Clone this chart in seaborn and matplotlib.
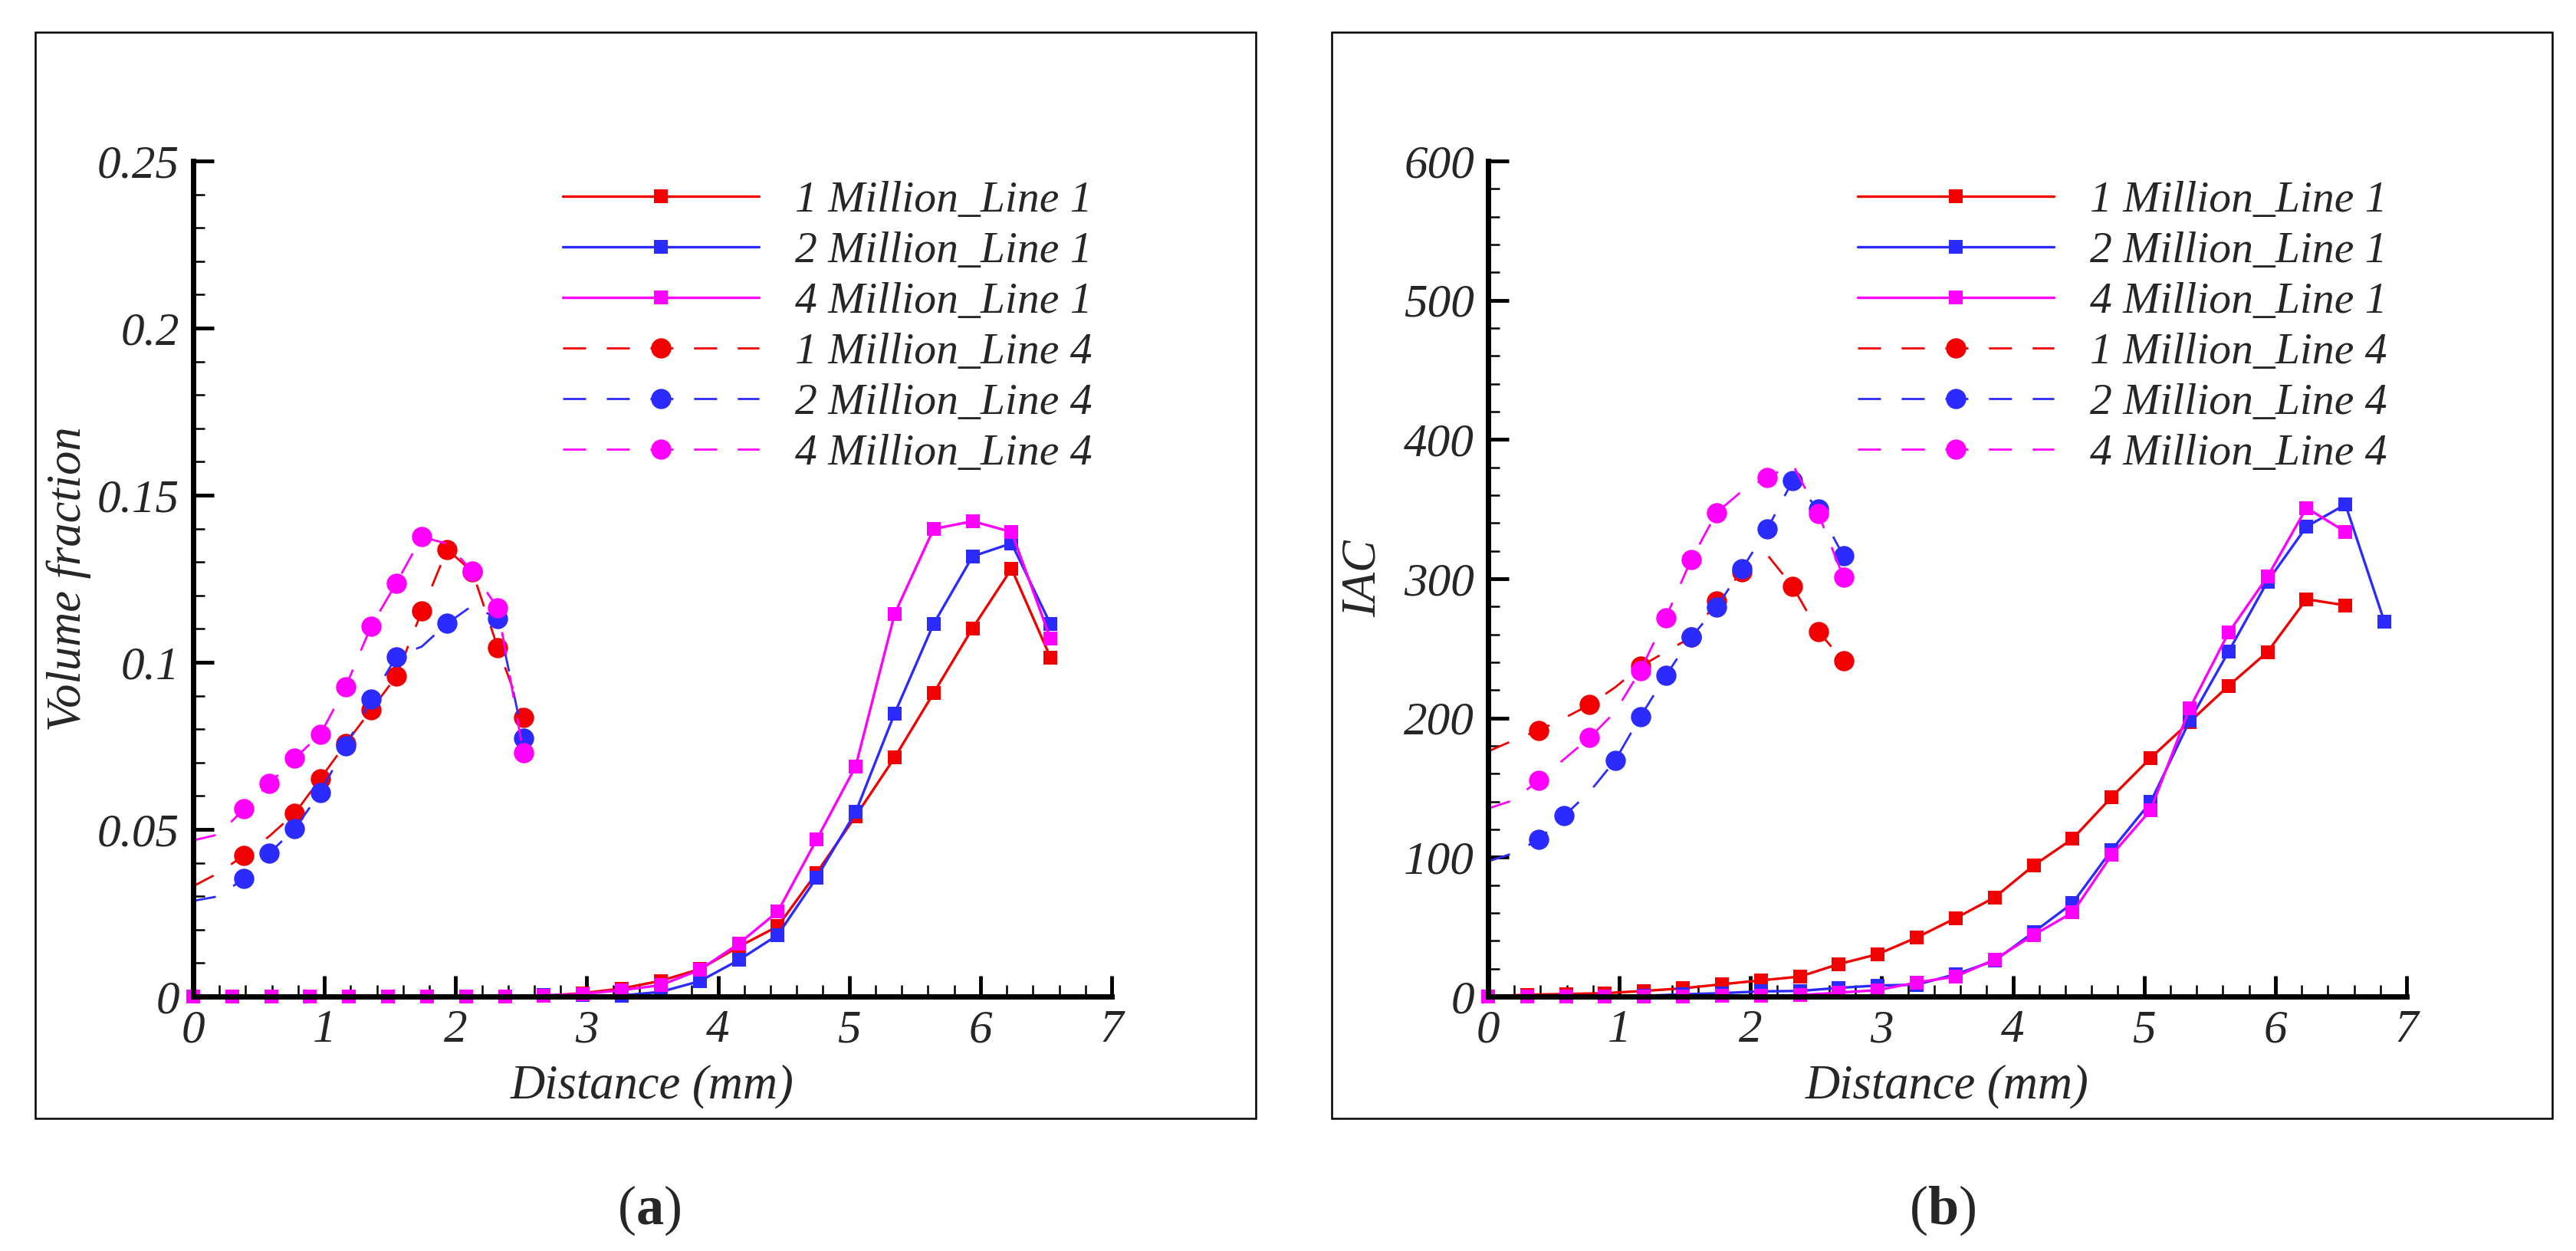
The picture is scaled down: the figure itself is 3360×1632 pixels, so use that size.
import matplotlib
matplotlib.use("Agg")
import matplotlib.pyplot as plt
import seaborn as sns
import pandas as pd
from matplotlib.lines import Line2D
from matplotlib.patches import Rectangle
from matplotlib.ticker import FixedLocator, MultipleLocator

# ---------------- data ----------------
# Line 1 sample positions (mm)
x_line1 = [0.000, 0.297, 0.594, 0.891, 1.188, 1.485, 1.782, 2.079, 2.376, 2.673,
           2.970, 3.267, 3.564, 3.861, 4.158, 4.455, 4.752, 5.049, 5.346, 5.643,
           5.940, 6.237, 6.534, 6.831]
# Line 4 sample positions (mm)
x_line4 = [0.000, 0.194, 0.387, 0.581, 0.774, 0.968, 1.161, 1.355, 1.548, 1.742,
           1.935, 2.129, 2.322, 2.516, 2.709]

# (a) Volume fraction
vf_1m_line1 = [0, 0, 0, 0, 0, 0, 0, 0, 0, 0.0002, 0.0010, 0.0024, 0.0047, 0.0082,
               0.0149, 0.0210, 0.0370, 0.0540, 0.0715, 0.0908, 0.1102, 0.1280, 0.1014]
vf_2m_line1 = [0, 0, 0, 0, 0, 0, 0, 0, 0, 0.0004, 0.0004, 0.0003, 0.0014, 0.0046,
               0.0109, 0.0184, 0.0356, 0.0552, 0.0847, 0.1115, 0.1317, 0.1356, 0.1114]
vf_4m_line1 = [0, 0, 0, 0, 0, 0, 0, 0, 0, 0.0002, 0.0008, 0.0019, 0.0034, 0.0080,
               0.0158, 0.0254, 0.0470, 0.0689, 0.1145, 0.1399, 0.1422, 0.1390, 0.1070]
vf_1m_line4 = [0.0330, 0.0370, 0.0422, 0.0480, 0.0548, 0.0651, 0.0756, 0.0857,
               0.0958, 0.1153, 0.1338, 0.1270, 0.1043, 0.0836]
vf_2m_line4 = [0.0286, 0.0300, 0.0353, 0.0429, 0.0502, 0.0610, 0.0749, 0.0889,
               0.1017, 0.1047, 0.1116, 0.1170, 0.1130, 0.0772]
vf_4m_line4 = [0.0467, 0.0485, 0.0561, 0.0637, 0.0713, 0.0784, 0.0926, 0.1107,
               0.1237, 0.1375, 0.1355, 0.1272, 0.1162, 0.0729]

# (b) IAC
iac_1m_line1 = [0, 1.3, 1.8, 2.4, 4.0, 5.9, 8.8, 11.6, 14.3, 23.3, 30.4, 42.4, 56.3,
                71.2, 94.1, 113.3, 143.2, 171.3, 197.1, 223.1, 247.4, 285.3, 280.9]
iac_2m_line1 = [0, 0, 0, 0, 0.5, 1.6, 2.4, 3.7, 4.0, 6.2, 7.9, 8.5, 16.0, 25.7,
                46.2, 67.1, 105.2, 139.6, 197.9, 247.6, 298.0, 337.4, 353.3, 269.1]
iac_4m_line1 = [0, 0, 0, 0, 0, 0, 0.3, 0.3, 1.0, 2.8, 4.6, 10.1, 14.3, 26.6,
                44.2, 60.3, 101.6, 133.9, 206.7, 261.2, 301.5, 350.9, 333.7]
iac_1m_line4 = [176, 184, 191.2, 200, 209.5, 222, 237, 247.6, 258, 283.9, 305, 317,
                294.4, 262.2, 241]
iac_2m_line4 = [97, 103, 112.7, 129.9, 147, 169.5, 201, 230.4, 258, 279.8, 307,
                335.9, 370.6, 350, 316.3]
iac_4m_line4 = [135, 141, 155.4, 170.6, 185.9, 204.4, 234.2, 272.1, 313.8, 347.5,
                363, 372.8, 382, 346.8, 301]

series_labels = ["1 Million_Line 1", "2 Million_Line 1", "4 Million_Line 1",
                 "1 Million_Line 4", "2 Million_Line 4", "4 Million_Line 4"]

x_ticks = [0, 1, 2, 3, 4, 5, 6, 7]
x_tick_labels = ["0", "1", "2", "3", "4", "5", "6", "7"]
vf_ticks = [0, 0.05, 0.1, 0.15, 0.2, 0.25]
vf_tick_labels = ["0", "0.05", "0.1", "0.15", "0.2", "0.25"]
iac_ticks = [0, 100, 200, 300, 400, 500, 600]
iac_tick_labels = ["0", "100", "200", "300", "400", "500", "600"]

# markers visible on line-4 curves (others hidden by symbol skipping / overlap)
vf_marks_1m = [2, 4, 5, 6, 7, 8, 9, 10, 11, 12, 13]
vf_marks_2m = [2, 3, 4, 5, 6, 7, 8, 10, 12, 13]
vf_marks_4m = [2, 3, 4, 5, 6, 7, 8, 9, 11, 12, 13]
iac_marks_1m = [2, 4, 6, 8, 9, 10, 12, 13, 14]
iac_marks_2m = [2, 3, 5, 6, 7, 8, 9, 10, 11, 12, 13, 14]
iac_marks_4m = [2, 4, 6, 7, 8, 9, 11, 13, 14]

# ---------------- style ----------------
RED = "#F00000"
BLUE = "#2B2BFF"
MAG = "#FF00FF"
colors = [RED, BLUE, MAG]
DASH = (0, (21.6, 19.4))
LW_SOLID = 2.4
LW_DASH = 2.0
MS_SQ = 13.5
MS_CI = 19.0
FONT = "Liberation Serif"

sns.set_style("ticks")
plt.rcParams["font.family"] = [FONT, "DejaVu Serif"]
plt.rcParams["font.style"] = "normal"
plt.rcParams["lines.scale_dashes"] = False
plt.rcParams["mathtext.fontset"] = "custom"
plt.rcParams["mathtext.rm"] = FONT
plt.rcParams["mathtext.bf"] = FONT + ":bold"

fig = plt.figure(figsize=(33.6, 16.32), dpi=100)
fig.patch.set_facecolor("white")

ax_a = fig.add_axes([0.0750, 0.20343, 0.35655, 0.6679])
ax_b = fig.add_axes([0.57768, 0.20343, 0.35655, 0.6679])


def draw(ax, x, y, color, solid, marks, z):
    df = pd.DataFrame({"x": x[:len(y)], "y": y})
    kw = dict(color=color, marker="s" if solid else "o",
              markersize=MS_SQ if solid else MS_CI,
              linewidth=LW_SOLID if solid else LW_DASH,
              markeredgewidth=0, markeredgecolor=color,
              clip_on=False, zorder=z)
    if marks is not None:
        kw["markevery"] = marks
    sns.lineplot(data=df, x="x", y="y", ax=ax, legend=False, sort=False,
                 estimator=None, errorbar=None, **kw)
    if not solid:
        ax.lines[-1].set_linestyle(DASH)


panel_a = [(vf_1m_line1, vf_2m_line1, vf_4m_line1),
           (vf_1m_line4, vf_2m_line4, vf_4m_line4),
           (vf_marks_1m, vf_marks_2m, vf_marks_4m)]
panel_b = [(iac_1m_line1, iac_2m_line1, iac_4m_line1),
           (iac_1m_line4, iac_2m_line4, iac_4m_line4),
           (iac_marks_1m, iac_marks_2m, iac_marks_4m)]

for ax, (l1, l4, mk) in [(ax_a, panel_a), (ax_b, panel_b)]:
    z = 2.0
    for ys, c in zip(l1, colors):
        draw(ax, x_line1, ys, c, True, None, z)
        z += 0.05
    for ys, c, m in zip(l4, colors, mk):
        draw(ax, x_line4, ys, c, False, m, z)
        z += 0.05

label_fs = 45
tick_fs = 44
for ax, yt, ytl, ylab, ymax, yminor in [
        (ax_a, vf_ticks, vf_tick_labels, "Volume fraction", 0.25, 0.01),
        (ax_b, iac_ticks, iac_tick_labels, "IAC", 600, 20)]:
    ax.set_xlim(0, 7)
    ax.set_ylim(0, ymax)
    ax.set_facecolor("white")
    ax.grid(False)
    for s in ["top", "right"]:
        ax.spines[s].set_visible(False)
    for s in ["left", "bottom"]:
        ax.spines[s].set_linewidth(5)
        ax.spines[s].set_color("black")
        ax.spines[s].set_zorder(5)
    ax.xaxis.set_major_locator(FixedLocator(x_ticks))
    ax.set_xticklabels(x_tick_labels)
    ax.xaxis.set_minor_locator(MultipleLocator(0.2))
    ax.yaxis.set_major_locator(FixedLocator(yt))
    ax.set_yticklabels(ytl)
    ax.yaxis.set_minor_locator(MultipleLocator(yminor))
    ax.tick_params(which="major", direction="in", length=19.5, width=3.5,
                   color="black", labelsize=tick_fs, top=False, right=False)
    ax.tick_params(which="minor", direction="in", length=10.5, width=1.8,
                   color="black", top=False, right=False)
    ax.tick_params(axis="x", which="major", pad=12)
    ax.tick_params(axis="y", which="major", pad=13)
    for t in ax.get_xticklabels() + ax.get_yticklabels():
        t.set_fontstyle("italic")
        t.set_fontfamily(FONT)
    ax.set_xlabel("Distance (mm)", fontsize=label_fs, fontstyle="italic")
    ax.xaxis.set_label_coords(0.5, -0.1073)
    ax.xaxis.label.set_va("center")
    ax.set_ylabel(ylab, fontsize=label_fs, fontstyle="italic")
    ax.yaxis.set_label_coords(-0.1352, 0.5)
    ax.yaxis.label.set_va("center")

    handles = []
    for i, lab in enumerate(series_labels):
        solid = i < 3
        handles.append(Line2D([], [], color=colors[i % 3],
                              linewidth=LW_SOLID if solid else LW_DASH,
                              linestyle="-" if solid else DASH,
                              marker="s" if solid else "o",
                              markersize=MS_SQ if solid else MS_CI,
                              markeredgewidth=0))
    ax.legend(handles, series_labels, loc="upper left",
              bbox_to_anchor=(0.402, 0.976), frameon=False, borderpad=0,
              borderaxespad=0, handlelength=4.44, handletextpad=0.82,
              labelspacing=0.236, numpoints=1,
              prop=dict(family=FONT, style="italic", size=41.5))

# outer frames
for x0 in [0.01369, 0.5170]:
    fig.add_artist(Rectangle((x0, 0.10600), 0.4738, 0.8683,
                             transform=fig.transFigure, fill=False,
                             linewidth=1.8, edgecolor="black"))

fig.text(0.2518, 0.0325, r"($\mathbf{a}$)", ha="center", va="center",
         fontsize=52, fontstyle="normal", fontfamily=FONT)
fig.text(0.7539, 0.0325, r"($\mathbf{b}$)", ha="center", va="center",
         fontsize=52, fontstyle="normal", fontfamily=FONT)

fig.savefig("out.png", dpi=100, facecolor="white")
